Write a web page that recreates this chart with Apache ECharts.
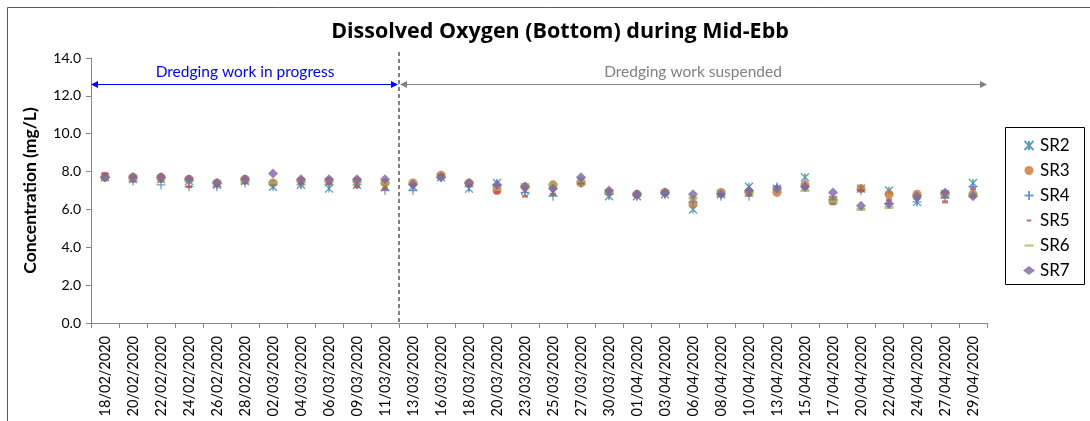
<!DOCTYPE html>
<html>
<head>
<meta charset="utf-8">
<script src="https://cdn.jsdelivr.net/npm/echarts@6/dist/echarts.min.js"></script>
<style>
  html, body { margin: 0; padding: 0; background: #fff; }
  #chart { width: 1090px; height: 421px; }
</style>
</head>
<body>
<div id="chart"></div>
<script>
// sampling dates
var dates = ['18/02/2020', '20/02/2020', '22/02/2020', '24/02/2020', '26/02/2020', '28/02/2020',
  '02/03/2020', '04/03/2020', '06/03/2020', '09/03/2020', '11/03/2020', '13/03/2020',
  '16/03/2020', '18/03/2020', '20/03/2020', '23/03/2020', '25/03/2020', '27/03/2020',
  '30/03/2020', '01/04/2020', '03/04/2020', '06/04/2020', '08/04/2020', '10/04/2020',
  '13/04/2020', '15/04/2020', '17/04/2020', '20/04/2020', '22/04/2020', '24/04/2020',
  '27/04/2020', '29/04/2020'];

// DO (mg/L) per station
var sr2 = [7.7, 7.6, 7.6, 7.5, 7.3, 7.5, 7.2, 7.3, 7.1, 7.3, 7.2, 7.2, 7.7, 7.1, 7.4, 7.0,
  6.9, 7.5, 6.7, 6.7, 6.8, 6.0, 6.8, 7.2, 7.1, 7.7, 6.5, 7.1, 7.0, 6.4, 6.8, 7.4];
var sr3 = [7.7, 7.7, 7.7, 7.6, 7.4, 7.6, 7.4, 7.5, 7.5, 7.5, 7.4, 7.4, 7.8, 7.4, 7.0, 7.2,
  7.3, 7.4, 6.9, 6.8, 6.9, 6.3, 6.9, 6.9, 6.9, 7.3, 6.5, 7.1, 6.8, 6.8, 6.8, 6.8];
var sr4 = [7.7, 7.5, 7.3, 7.2, 7.2, 7.4, 7.3, 7.3, 7.3, 7.3, 7.0, 7.0, 7.7, 7.2, 7.3, 6.9,
  6.7, 7.4, 6.8, 6.7, 6.8, 6.4, 6.7, 6.7, 7.2, 7.2, 6.5, 7.0, 6.3, 6.4, 6.6, 7.2];
var sr5 = [7.9, 7.5, 7.5, 7.2, 7.3, 7.4, 7.4, 7.4, 7.4, 7.2, 7.1, 7.3, 7.8, 7.3, 6.9, 6.7,
  6.8, 7.4, 6.9, 6.8, 6.9, 6.6, 6.8, 6.8, 7.0, 7.1, 6.3, 7.0, 6.5, 6.6, 6.4, 7.1];
var sr6 = [7.7, 7.6, 7.6, 7.5, 7.4, 7.5, 7.4, 7.5, 7.5, 7.5, 7.4, 7.4, 7.7, 7.4, 7.2, 7.3,
  7.3, 7.5, 6.9, 6.8, 6.9, 6.6, 6.9, 6.9, 7.0, 7.0, 6.4, 6.0, 6.1, 6.7, 6.8, 6.8];
var sr7 = [7.7, 7.7, 7.7, 7.6, 7.4, 7.6, 7.9, 7.6, 7.6, 7.6, 7.6, 7.3, 7.7, 7.4, 7.3, 7.2,
  7.1, 7.7, 7.0, 6.8, 6.9, 6.8, 6.8, 7.0, 7.1, 7.2, 6.9, 6.2, 6.3, 6.7, 6.9, 6.7];

var lastWorkIdx = 10;   // 11/03/2020, dredging suspended after this
var arrowLevel = 12.6;

var FONT = 'Lato, "Open Sans", sans-serif';

// marker shapes (svg paths) to mimic the excel markers
var starPath = 'path://M0,0L10,10M10,0L0,10M5,0L5,10';
var plusPath = 'path://M5,0L5,10M0,5L10,5';

function mk(name, data, symbol, size, color, stroked) {
  var s = {
    name: name,
    type: 'scatter',
    data: data,
    symbol: symbol,
    symbolSize: size,
    itemStyle: { color: color },
    z: 3
  };
  if (stroked) {
    s.itemStyle = { color: 'none', borderColor: color, borderWidth: 1.3 };
  }
  return s;
}

var chart = echarts.init(document.getElementById('chart'));

var option = {
  animation: false,
  textStyle: { fontFamily: FONT },
  title: {
    text: 'Dissolved Oxygen (Bottom) during Mid-Ebb',
    left: 555,
    textAlign: 'center',
    top: 16,
    textStyle: { fontSize: 21.5, fontWeight: 'bold', color: '#000', fontFamily: '"Open Sans", sans-serif' }
  },
  legend: {
    orient: 'vertical',
    left: 1017,
    top: 132,
    itemGap: 8,
    itemWidth: 12,
    itemHeight: 9,
    textStyle: { fontSize: 17, color: '#000', fontFamily: FONT },
    data: [
      { name: 'SR2' },
      { name: 'SR3' },
      { name: 'SR4' },
      { name: 'SR5', icon: 'path://M0,0M10,10M2.5,3.8L7.5,3.8L7.5,6.2L2.5,6.2Z' },
      { name: 'SR6', icon: 'path://M0,0M10,10M0,3.8L10,3.8L10,6.2L0,6.2Z' },
      { name: 'SR7' }
    ]
  },
  grid: { left: 91, right: 103, top: 58, bottom: 98 },
  xAxis: {
    type: 'category',
    data: dates,
    boundaryGap: true,
    axisLine: { lineStyle: { color: '#868686' } },
    axisTick: { show: true, length: 5, lineStyle: { color: '#868686' } },
    axisLabel: { rotate: 90, fontSize: 14.5, color: '#000', margin: 13, interval: 0 },
    splitLine: { show: false }
  },
  yAxis: {
    type: 'value',
    min: 0,
    max: 14,
    interval: 2,
    name: 'Concentration (mg/L)',
    nameLocation: 'middle',
    nameGap: 52,
    nameTextStyle: { fontSize: 17.5, fontWeight: 'bold', color: '#000', fontFamily: FONT },
    axisLine: { show: true, lineStyle: { color: '#868686' } },
    axisTick: { show: true, length: 5, lineStyle: { color: '#868686' } },
    axisLabel: {
      fontSize: 14, color: '#000', margin: 10,
      formatter: function (v) { return v.toFixed(1); }
    },
    splitLine: { show: false }
  },
  series: [
    mk('SR2', sr2, starPath, 8, '#31859C', true),
    mk('SR3', sr3, 'circle', 9, '#CB7430'),
    mk('SR4', sr4, plusPath, 9, '#4F81BD', true),
    mk('SR5', sr5, 'rect', [6, 3], '#C0504D'),
    mk('SR6', sr6, 'rect', [9, 3], '#9BBB59'),
    mk('SR7', sr7, 'diamond', 10, '#8064A2')
  ]
};

chart.setOption(option);

// annotation: dashed separator + arrows, positioned through the axes
var xa = chart.convertToPixel({ xAxisIndex: 0 }, lastWorkIdx);
var xb = chart.convertToPixel({ xAxisIndex: 0 }, lastWorkIdx + 1);
var xSep = (xa + xb) / 2;
var x0 = chart.convertToPixel({ xAxisIndex: 0 }, 0) - (xb - xa) / 2;
var x1 = chart.convertToPixel({ xAxisIndex: 0 }, dates.length - 1) + (xb - xa) / 2;
var yArrow = chart.convertToPixel({ yAxisIndex: 0 }, arrowLevel);
var yTop = chart.convertToPixel({ yAxisIndex: 0 }, 14) - 6;
var yBot = chart.convertToPixel({ yAxisIndex: 0 }, 0);

function arrowHead(x, y, dir, color) {
  return {
    type: 'polygon',
    shape: { points: [[x, y], [x - dir * 7, y - 3.5], [x - dir * 7, y + 3.5]] },
    style: { fill: color },
    z: 10
  };
}

chart.setOption({
  graphic: [
    {
      type: 'rect',
      shape: { x: 7.5, y: 7.5, width: 1200, height: 600 },
      style: { fill: 'none', stroke: '#595959', lineWidth: 1 },
      silent: true
    },
    {
      type: 'line',
      shape: { x1: xSep, y1: yTop, x2: xSep, y2: yBot },
      style: { stroke: '#000', lineWidth: 1, lineDash: [4, 3] },
      z: 10
    },
    {
      type: 'line',
      shape: { x1: x0 + 2, y1: yArrow, x2: xSep - 2, y2: yArrow },
      style: { stroke: '#0000FF', lineWidth: 1.2 },
      z: 10
    },
    arrowHead(x0, yArrow, -1, '#0000FF'),
    arrowHead(xSep - 1, yArrow, 1, '#0000FF'),
    {
      type: 'line',
      shape: { x1: xSep + 2, y1: yArrow, x2: x1 - 2, y2: yArrow },
      style: { stroke: '#808080', lineWidth: 1.2 },
      z: 10
    },
    arrowHead(xSep + 1, yArrow, -1, '#808080'),
    arrowHead(x1, yArrow, 1, '#808080'),
    {
      type: 'text',
      x: (x0 + xSep) / 2,
      y: yArrow - 5,
      style: {
        text: 'Dredging work in progress', fill: '#0000FF', font: '15.5px ' + FONT,
        textAlign: 'center', textVerticalAlign: 'bottom'
      },
      z: 10
    },
    {
      type: 'text',
      x: (xSep + x1) / 2,
      y: yArrow - 5,
      style: {
        text: 'Dredging work suspended', fill: '#808080', font: '15.5px ' + FONT,
        textAlign: 'center', textVerticalAlign: 'bottom'
      },
      z: 10
    },
    {
      type: 'rect',
      shape: { x: 1005.5, y: 127.5, width: 79, height: 157 },
      style: { fill: 'none', stroke: '#000', lineWidth: 1 },
      silent: true
    }
  ]
});
</script>
</body>
</html>
